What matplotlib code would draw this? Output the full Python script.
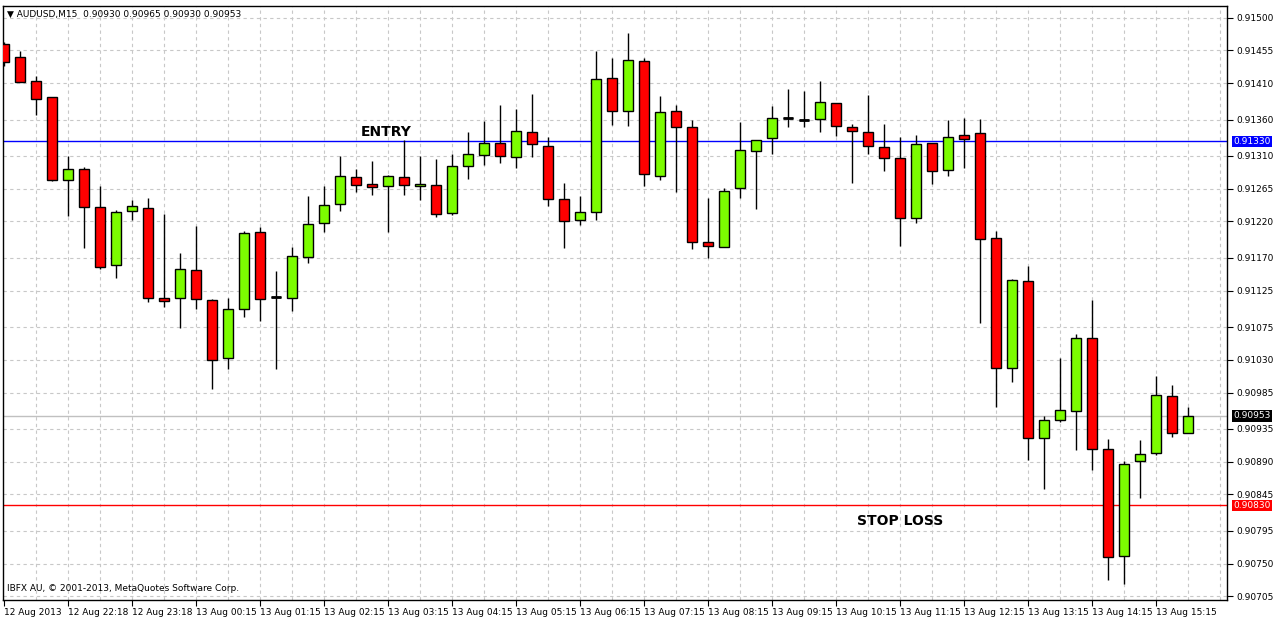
import matplotlib
matplotlib.use("Agg")
import matplotlib.pyplot as plt
import numpy as np

opens = [0.91464,0.91446,0.91413,0.91391,0.91277,0.91292,0.91240,0.91160,0.91234,0.91238,
         0.91115,0.91115,0.91153,0.91112,0.91032,0.91100,0.91205,0.91116,0.91115,0.91171,
         0.91218,0.91244,0.91281,0.91271,0.91269,0.91281,0.91269,0.91270,0.91232,0.91296,
         0.91311,0.91328,0.91308,0.91343,0.91324,0.91251,0.91222,0.91233,0.91417,0.91372,
         0.91440,0.91282,0.91372,0.91350,0.91192,0.91185,0.91266,0.91317,0.91335,0.91362,
         0.91359,0.91361,0.91383,0.91350,0.91343,0.91322,0.91307,0.91225,0.91328,0.91291,
         0.91339,0.91341,0.91197,0.91019,0.91138,0.90923,0.90947,0.90960,0.91060,0.90908,
         0.90761,0.90891,0.90902,0.90980,0.90930]
highs = [0.91466,0.91454,0.91420,0.91391,0.91310,0.91295,0.91269,0.91236,0.91249,0.91252,
         0.91230,0.91177,0.91214,0.91113,0.91115,0.91207,0.91212,0.91152,0.91185,0.91255,
         0.91269,0.91310,0.91292,0.91303,0.91284,0.91332,0.91310,0.91306,0.91313,0.91343,
         0.91358,0.91380,0.91374,0.91395,0.91336,0.91273,0.91255,0.91454,0.91444,0.91479,
         0.91444,0.91392,0.91380,0.91359,0.91252,0.91266,0.91356,0.91332,0.91378,0.91402,
         0.91399,0.91413,0.91383,0.91354,0.91394,0.91354,0.91336,0.91339,0.91328,0.91359,
         0.91362,0.91361,0.91207,0.91141,0.91159,0.90953,0.91032,0.91065,0.91112,0.90921,
         0.90891,0.90920,0.91008,0.90995,0.90965]
lows = [0.91433,0.91411,0.91366,0.91276,0.91227,0.91183,0.91155,0.91142,0.91222,0.91109,
        0.91102,0.91074,0.91100,0.90990,0.91017,0.91089,0.91083,0.91017,0.91097,0.91163,
        0.91205,0.91234,0.91260,0.91256,0.91205,0.91256,0.91249,0.91226,0.91229,0.91278,
        0.91297,0.91300,0.91293,0.91308,0.91241,0.91183,0.91215,0.91222,0.91352,0.91351,
        0.91269,0.91277,0.91260,0.91182,0.91170,0.91185,0.91252,0.91237,0.91313,0.91350,
        0.91350,0.91343,0.91337,0.91273,0.91313,0.91289,0.91186,0.91218,0.91271,0.91282,
        0.91293,0.91081,0.90965,0.91000,0.90892,0.90853,0.90945,0.90906,0.90879,0.90728,
        0.90722,0.90840,0.90899,0.90924,0.90930]
closes = [0.91439,0.91411,0.91388,0.91277,0.91292,0.91240,0.91157,0.91233,0.91241,0.91115,
          0.91111,0.91155,0.91113,0.91030,0.91100,0.91204,0.91113,0.91116,0.91173,0.91216,
          0.91243,0.91282,0.91270,0.91267,0.91282,0.91270,0.91271,0.91230,0.91296,0.91313,
          0.91328,0.91310,0.91344,0.91326,0.91251,0.91221,0.91233,0.91416,0.91372,0.91442,
          0.91285,0.91370,0.91350,0.91192,0.91186,0.91262,0.91318,0.91332,0.91362,0.91362,
          0.91359,0.91384,0.91351,0.91344,0.91324,0.91307,0.91225,0.91326,0.91289,0.91336,
          0.91333,0.91196,0.91019,0.91140,0.90923,0.90947,0.90961,0.91060,0.90908,0.90759,
          0.90887,0.90901,0.90982,0.90930,0.90953]

xlabels = ["12 Aug 2013","12 Aug 22:18","12 Aug 23:18","13 Aug 00:15","13 Aug 01:15",
           "13 Aug 02:15","13 Aug 03:15","13 Aug 04:15","13 Aug 05:15","13 Aug 06:15",
           "13 Aug 07:15","13 Aug 08:15","13 Aug 09:15","13 Aug 10:15","13 Aug 11:15",
           "13 Aug 12:15","13 Aug 13:15","13 Aug 14:15","13 Aug 15:15"]
yticks = [0.91500,0.91455,0.91410,0.91360,0.91310,0.91265,0.91220,0.91170,0.91125,
          0.91075,0.91030,0.90985,0.90935,0.90890,0.90845,0.90795,0.90750,0.90705]
entry = 0.91330
stop = 0.90830
last = 0.90953

fig = plt.figure(figsize=(12.76, 6.19), dpi=100)
ax = fig.add_axes([3/1276, 1-600/619, (1227-3)/1276, (600-6)/619])
n = len(opens)
x = np.arange(n)
ax.set_xlim(-0.06, 76.44)
ax.set_ylim(0.90700, 0.91516)

for v in yticks:
    ax.axhline(v, color="#c8c8c8", lw=0.8, ls=(0, (3, 3)), zorder=0)
for xi in range(2, 77, 2):
    ax.axvline(xi, color="#c8c8c8", lw=0.8, ls=(0, (3, 3)), zorder=0)

ax.vlines(x, lows, highs, color="black", lw=1, zorder=2)
o = np.array(opens); c = np.array(closes)
cols = ["#7cfc00" if cc > oo else ("red" if cc < oo else "black") for oo, cc in zip(o, c)]
bottoms = np.minimum(o, c)
heights = np.abs(c - o)
ax.bar(x, heights, 0.62, bottom=bottoms, color=cols, edgecolor="black", lw=1, zorder=3)
for i in range(n):
    if heights[i] == 0:
        ax.hlines(o[i], i - 0.31, i + 0.31, color="black", lw=2, zorder=4)

ax.axhline(entry, color="blue", lw=1, zorder=1)
ax.axhline(stop, color="red", lw=1, zorder=1)
ax.axhline(last, color="#c0c0c0", lw=1, zorder=1)

ax.text(23.9, 0.91343, "ENTRY", fontsize=10, fontweight="bold", ha="center", va="center")
ax.text(56.0, 0.90808, "STOP LOSS", fontsize=10, fontweight="bold", ha="center", va="center")
ax.text(0.003, 0.011, "IBFX AU, © 2001-2013, MetaQuotes Software Corp.", transform=ax.transAxes,
        fontsize=6.5, va="bottom", ha="left")
ax.text(0.003, 0.993, "▼ AUDUSD,M15  0.90930 0.90965 0.90930 0.90953", transform=ax.transAxes,
        fontsize=6.5, va="top", ha="left")

ax.yaxis.tick_right()
ax.set_yticks(yticks)
ax.set_yticklabels([f"{v:.5f}" for v in yticks], fontsize=6.5)
ax.tick_params(axis="y", length=4, pad=3)
ax.set_xticks(np.arange(0, 73, 4))
ax.set_xticklabels(xlabels, fontsize=6.5, ha="left")
ax.tick_params(axis="x", length=4, pad=2)
for v, bg in [(entry, "blue"), (stop, "red"), (last, "black")]:
    ax.text(1.0055, v, f"{v:.5f}", transform=ax.get_yaxis_transform(), fontsize=6.5,
            color="white", va="center", ha="left",
            bbox=dict(boxstyle="square,pad=0.15", fc=bg, ec="none"), zorder=10)
for s in ax.spines.values():
    s.set_linewidth(1)

fig.savefig("out.png", dpi=100)
